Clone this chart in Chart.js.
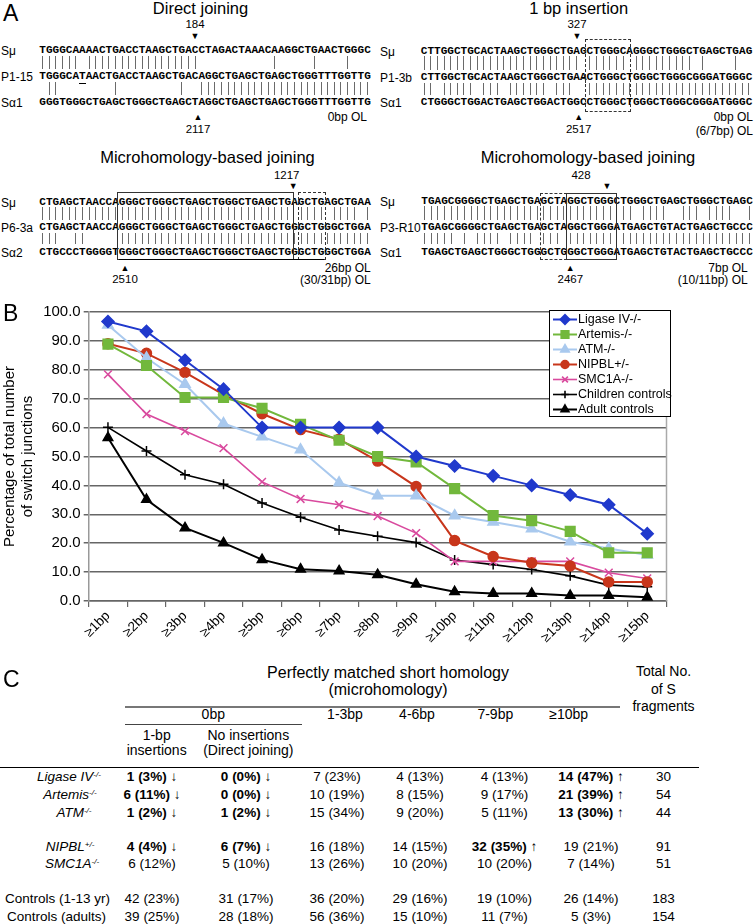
<!DOCTYPE html>
<html lang="en">
<head>
<meta charset="UTF-8">
<title>Switch junctions</title>
<script src="https://cdn.jsdelivr.net/npm/chart.js"></script>
<style>
  body { margin: 0; background: #fff; width: 754px; height: 924px; position: relative; overflow: hidden;
         font-family: 'Liberation Sans', Arial, sans-serif; color: #000; }
  .t { position: absolute; white-space: nowrap; line-height: 1; }
  .mono { font-family: 'Liberation Mono', 'Courier New', monospace; font-weight: bold; }
  .ln { position: absolute; }
  #chartWrap { position: absolute; left: 0; top: 300px; width: 754px; height: 360px; }
  sup { font-size: 0.6em; vertical-align: 0.55em; font-style: italic; }
</style>
</head>
<body>

<div id="chartWrap"><canvas id="grafico" width="754" height="360"></canvas></div>

<script>
    // ---- panel B data ----
    const categorias = ['≥1bp', '≥2bp', '≥3bp', '≥4bp', '≥5bp', '≥6bp', '≥7bp', '≥8bp',
        '≥9bp', '≥10bp', '≥11bp', '≥12bp', '≥13bp', '≥14bp', '≥15bp'];

    const ligaseIV = [96.7, 93.3, 83.3, 73.3, 60.0, 60.0, 60.0, 60.0, 50.0, 46.7, 43.3, 40.0, 36.7, 33.3, 23.3];
    const artemis = [88.9, 81.5, 70.4, 70.4, 66.7, 61.1, 55.6, 50.0, 48.1, 38.9, 29.6, 27.8, 24.1, 16.7, 16.7];
    const atm = [95.5, 84.1, 75.0, 61.4, 56.8, 52.3, 40.9, 36.4, 36.4, 29.5, 27.3, 25.0, 20.5, 18.2, 15.9];
    const nipbl = [89.0, 85.7, 79.1, 71.4, 64.8, 59.3, 56.0, 48.4, 39.6, 20.9, 15.4, 13.2, 12.1, 6.6, 6.6];
    const smc1a = [78.4, 64.7, 58.8, 52.9, 41.2, 35.3, 33.3, 29.4, 23.5, 13.7, 13.7, 13.7, 13.7, 9.8, 7.8];
    const criancas = [60.1, 51.9, 43.7, 40.4, 33.9, 29.0, 24.6, 22.4, 20.2, 14.2, 12.6, 10.9, 8.7, 5.5, 4.9];
    const adultos = [56.5, 35.1, 25.3, 20.1, 14.3, 11.0, 10.4, 9.1, 5.8, 3.2, 2.6, 2.6, 1.9, 1.9, 1.3];

    const fonte = "'Liberation Sans', Arial, sans-serif";

    // ---- helpers for the text panels ----
    function put(txt, x, y, o) {
        o = o || {};
        var d = document.createElement('div');
        d.className = 't' + (o.mono ? ' mono' : '');
        d.innerHTML = txt;
        d.style.left = x + 'px';
        d.style.top = y + 'px';
        d.style.fontSize = (o.size || 12) + 'px';
        if (o.bold) d.style.fontWeight = 'bold';
        if (o.italic) d.style.fontStyle = 'italic';
        if (o.color) d.style.color = o.color;
        var ax = o.align == 'left' ? '0' : (o.align == 'right' ? '-100%' : '-50%');
        d.style.transform = 'translate(' + ax + ', -50%)';
        document.body.appendChild(d);
    }

    function linha(x, y, w, h, cor) {
        var d = document.createElement('div');
        d.className = 'ln';
        d.style.left = x + 'px'; d.style.top = y + 'px';
        d.style.width = w + 'px'; d.style.height = h + 'px';
        d.style.background = cor || '#000';
        document.body.appendChild(d);
    }

    function caixa(x1, y1, x2, y2, estilo) {
        var d = document.createElement('div');
        d.className = 'ln';
        d.style.left = x1 + 'px'; d.style.top = y1 + 'px';
        d.style.width = (x2 - x1) + 'px'; d.style.height = (y2 - y1) + 'px';
        d.style.border = '1px ' + estilo + ' #333';
        document.body.appendChild(d);
    }

    // ---- panel A ----
    const cw = 6.63;
    const blocos = [
        {
            x0: 39.3, lx: 1, ys: [51, 77, 103],
            nomes: ['S&mu;', 'P1-15', 'S&alpha;1'],
            seqs: ['TGGGCAAAACTGACCTAAGCTGACCTAGACTAAACAAGGCTGAACTGGGC',
                'TGGGCATAACTGACCTAAGCTGACAGGCTGAGCTGAGCTGGGTTTGGTTG',
                'GGGTGGGCTGAGCTGGGCTGAGCTAGGCTGAGCTGAGCTGGGTTTGGTTG']
        },
        {
            x0: 420.8, lx: 380, ys: [51.5, 78, 103],
            nomes: ['S&mu;', 'P1-3b', 'S&alpha;1'],
            seqs: ['CTTGGCTGCACTAAGCTGGGCTGAGCTGGGCAGGGCTGGGCTGAGCTGAG',
                'CTTGGCTGCACTAAGCTGGGCTGAACTGGGCTGGGCTGGGCGGGATGGGC',
                'CTGGGCTGGACTGAGCTGGACTGGCCTGGGCTGGGCTGGGCGGGATGGGC']
        },
        {
            x0: 39.3, lx: 1, ys: [202.5, 228, 252.7],
            nomes: ['S&mu;', 'P6-3a', 'S&alpha;2'],
            seqs: ['CTGAGCTAACCAGGGCTGGGCTGAGCTGGGCTGAGCTGAGCTGAGCTGAA',
                'CTGAGCTAACCAGGGCTGGGCTGAGCTGGGCTGAGCTGGGCTGGGCTGGA',
                'CTGCCCTGGGGTGGGCTGGGCTGAGCTGGGCTGAGCTGGGCTGGGCTGGA']
        },
        {
            x0: 421.3, lx: 380, ys: [201.7, 228.3, 253],
            nomes: ['S&mu;', 'P3-R10', 'S&alpha;1'],
            seqs: ['TGAGCGGGGCTGAGCTGAGCTAGGCTGGGCTGGGCTGAGCTGGGCTGAGC',
                'TGAGCGGGGCTGAGCTGAGCTAGGCTGGGATGAGCTGTACTGAGCTGCCC',
                'TGAGCTGAGCTGGGCTGGGCTGGGCTGGGATGAGCTGTACTGAGCTGCCC']
        }
    ];

    blocos.forEach(function (b) {
        for (var r = 0; r < 3; r++) {
            put(b.nomes[r], b.lx, b.ys[r], { align: 'left', size: 12 });
            put(b.seqs[r], b.x0, b.ys[r], { align: 'left', mono: true, size: 11.05 });
        }
        // identity bars between neighbouring rows
        for (var r = 0; r < 2; r++) {
            var a = b.seqs[r], c = b.seqs[r + 1];
            var topo = b.ys[r] + 4.5, alt = b.ys[r + 1] - b.ys[r] - 13;
            for (var i = 0; i < a.length; i++) {
                if (a[i] == c[i]) linha(b.x0 + (i + 0.5) * cw - 0.5, topo, 1, alt, '#6a6a6a');
            }
        }
    });

    put('A', 3, 13, { align: 'left', size: 23 });
    put('Direct joining', 200.5, 8, { size: 16.5 });
    put('1 bp insertion', 578.7, 8, { size: 16.5 });
    put('Microhomology-based joining', 207.5, 157, { size: 16.5 });
    put('Microhomology-based joining', 588, 157, { size: 16.5 });

    // block 1 marks
    put('184', 195, 25, { size: 11.5 });
    put('&#9660;', 195, 36, { size: 9 });
    put('&#9650;', 198, 117, { size: 9 });
    put('2117', 198, 130, { size: 11.5 });
    put('0bp OL', 367, 117, { align: 'right', size: 12 });
    linha(39.3 + 6 * cw, 83, cw, 1.3, '#000');

    // block 2 marks
    put('327', 577, 25, { size: 11.5 });
    put('&#9660;', 577, 36, { size: 9 });
    put('&#9650;', 578.7, 117, { size: 9 });
    put('2517', 578.7, 130, { size: 11.5 });
    put('0bp OL', 753, 117, { align: 'right', size: 12 });
    put('(6/7bp) OL', 753, 131, { align: 'right', size: 12 });
    caixa(585.3, 39, 628.7, 110, 'dashed');
    linha(581, 78, 4, 1, '#333');
    linha(584.5, 78, 1, 5, '#333');

    // block 3 marks
    put('1217', 286.7, 175.7, { size: 11.5 });
    put('&#9660;', 293.3, 186, { size: 9 });
    caixa(117.3, 191.7, 292.3, 258.3, 'solid');
    caixa(298.3, 191.7, 324.3, 258.3, 'dashed');
    linha(39.3 + 12 * cw, 258.5, 31 * cw, 1.2, '#000');
    put('&#9650;', 125, 268, { size: 9 });
    put('2510', 125, 280, { size: 11.5 });
    put('26bp OL', 370.7, 268, { align: 'right', size: 12 });
    put('(30/31bp) OL', 370.7, 280, { align: 'right', size: 12 });

    // block 4 marks
    put('428', 581, 176, { size: 11.5 });
    put('&#9660;', 607, 186, { size: 9 });
    caixa(540.3, 192.7, 565.3, 258.3, 'dashed');
    caixa(566.3, 192.7, 615.3, 258.3, 'solid');
    put('&#9650;', 570.3, 268, { size: 9 });
    put('2467', 570.3, 280, { size: 11.5 });
    put('7bp OL', 747.7, 268, { align: 'right', size: 12 });
    put('(10/11bp) OL', 747.7, 280, { align: 'right', size: 12 });

    // ---- panel B ----
    put('B', 3, 313, { align: 'left', size: 23 });

    Chart.defaults.font.family = fonte;
    Chart.defaults.color = '#000';

    function serie(nome, dados, cor, estilo, raio, largura) {
        return {
            label: nome, data: dados,
            borderColor: cor, backgroundColor: cor,
            pointBackgroundColor: cor, pointBorderColor: cor,
            pointStyle: estilo, pointRadius: raio, pointBorderWidth: 1.5,
            borderWidth: largura, tension: 0, fill: false
        };
    }

    const conjuntos = [
        serie('Ligase IV-/-', ligaseIV, '#2039cc', 'rectRot', 6, 2),
        serie('Artemis-/-', artemis, '#72b83c', 'rect', 6.8, 2),
        serie('ATM-/-', atm, '#a9c9ee', 'triangle', 6, 2),
        serie('NIPBL+/-', nipbl, '#c8361b', 'circle', 5, 2),
        serie('SMC1A-/-', smc1a, '#d94a9e', 'crossRot', 5.5, 1.6),
        serie('Children controls', criancas, '#000000', 'cross', 5, 1.6),
        serie('Adult controls', adultos, '#000000', 'triangle', 5.5, 2)
    ];

    const legendaPlugin = {
        id: 'legendaCaixa',
        afterDraw(chart) {
            var ctx = chart.ctx;
            var area = chart.chartArea;
            ctx.save();
            // right border of plot
            ctx.strokeStyle = '#aaa';
            ctx.lineWidth = 1.5;
            ctx.beginPath();
            ctx.moveTo(area.right, area.top);
            ctx.lineTo(area.right, area.bottom);
            ctx.stroke();

            var bx = 549, by = 10, bw = 121, bh = 106;
            ctx.fillStyle = '#fff';
            ctx.fillRect(bx, by, bw, bh);
            ctx.strokeStyle = '#000';
            ctx.lineWidth = 1;
            ctx.strokeRect(bx + 0.5, by + 0.5, bw, bh);

            ctx.font = '12.5px ' + fonte;
            ctx.textBaseline = 'middle';
            ctx.textAlign = 'left';
            chart.data.datasets.forEach(function (ds, i) {
                var y = by + 9.5 + i * 15;
                ctx.strokeStyle = ds.borderColor;
                ctx.fillStyle = ds.borderColor;
                ctx.lineWidth = ds.borderWidth;
                ctx.beginPath();
                ctx.moveTo(bx + 4, y);
                ctx.lineTo(bx + 28, y);
                ctx.stroke();
                var opt = { pointStyle: ds.pointStyle, radius: ds.pointRadius * 0.75, rotation: 0, borderWidth: 1.5 };
                if (Chart.helpers && Chart.helpers.drawPoint) {
                    Chart.helpers.drawPoint(ctx, opt, bx + 16, y);
                } else {
                    ctx.beginPath();
                    ctx.arc(bx + 16, y, 3.5, 0, Math.PI * 2);
                    ctx.fill();
                }
                ctx.fillStyle = '#000';
                ctx.fillText(ds.label, bx + 29, y + 0.5);
            });
            ctx.restore();
        }
    };

    var grafico = new Chart(document.getElementById('grafico'), {
        type: 'line',
        data: { labels: categorias, datasets: conjuntos },
        options: {
            responsive: false,
            animation: false,
            layout: { padding: { top: 11, right: 87.5, left: 0, bottom: 0 } },
            plugins: { legend: { display: false }, tooltip: { enabled: false } },
            scales: {
                x: {
                    offset: true,
                    grid: { offset: true, drawOnChartArea: false, tickLength: 6, color: '#666', lineWidth: 1.2 },
                    border: { color: '#666', width: 1.5 },
                    ticks: { maxRotation: 45, minRotation: 45, autoSkip: false, font: { size: 13.5 }, color: '#000', padding: 1 },
                    afterFit: function (s) { s.height = 59; }
                },
                y: {
                    min: 0, max: 100,
                    ticks: { stepSize: 10, font: { size: 15 }, color: '#000', padding: 3,
                        callback: function (v) { return v.toFixed(1); } },
                    grid: { color: '#666', lineWidth: 1.5, tickLength: 5 },
                    border: { color: '#999', width: 1.5 },
                    title: {
                        display: true,
                        text: ['Percentage of total number', 'of switch junctions'],
                        font: { size: 15, lineHeight: 1.25 },
                        padding: { top: 0, bottom: 0 }
                    },
                    afterFit: function (s) { s.width = 88.7; }
                }
            }
        },
        plugins: [legendaPlugin]
    });

    // ---- panel C ----
    put('C', 3, 679, { align: 'left', size: 23 });
    put('Perfectly matched short homology', 388, 673, { size: 16 });
    put('(microhomology)', 388, 690, { size: 16 });
    linha(125, 706, 495, 1.5, '#777');
    put('Total No.', 663.5, 671, { size: 14 });
    put('of S', 663.5, 688.5, { size: 14 });
    put('fragments', 663.5, 706, { size: 14 });

    put('0bp', 213.3, 714, { size: 14 });
    linha(125, 723.5, 176.7, 1.2, '#444');
    put('1-3bp', 345, 714, { size: 14 });
    put('4-6bp', 417, 714, { size: 14 });
    put('7-9bp', 495.3, 714, { size: 14 });
    put('&ge;10bp', 568.7, 714, { size: 14 });
    put('1-bp', 156.7, 735, { size: 14 });
    put('insertions', 156.7, 750, { size: 14 });
    put('No insertions', 248.3, 735, { size: 14 });
    put('(Direct joining)', 248.3, 750, { size: 14 });
    linha(0, 767, 698.7, 1.3, '#000');

    const colunasX = [152, 246, 337, 420, 504.5, 591, 663.5];
    const linhasC = [
        { nome: 'Ligase IV<sup>-/-</sup>', it: true, x: 69, y: 777,
          cel: [['1 (3%) &darr;', 1], ['0 (0%) &darr;', 1], ['7 (23%)'], ['4 (13%)'], ['4 (13%)'], ['14 (47%) &uarr;', 1], ['30']] },
        { nome: 'Artemis<sup>-/-</sup>', it: true, x: 70, y: 795,
          cel: [['6 (11%) &darr;', 1], ['0 (0%) &darr;', 1], ['10 (19%)'], ['8 (15%)'], ['9 (17%)'], ['21 (39%) &uarr;', 1], ['54']] },
        { nome: 'ATM<sup>-/-</sup>', it: true, x: 74, y: 812.5,
          cel: [['1 (2%) &darr;', 1], ['1 (2%) &darr;', 1], ['15 (34%)'], ['9 (20%)'], ['5 (11%)'], ['13 (30%) &uarr;', 1], ['44']] },
        { nome: 'NIPBL<sup>+/-</sup>', it: true, x: 70, y: 846.5,
          cel: [['4 (4%) &darr;', 1], ['6 (7%) &darr;', 1], ['16 (18%)'], ['14 (15%)'], ['32 (35%) &uarr;', 1], ['19 (21%)'], ['91']] },
        { nome: 'SMC1A<sup>-/-</sup>', it: true, x: 72, y: 864,
          cel: [['6 (12%)'], ['5 (10%)'], ['13 (26%)'], ['10 (20%)'], ['10 (20%)'], ['7 (14%)'], ['51']] },
        { nome: 'Controls (1-13 yr)', it: false, x: 57.5, y: 899,
          cel: [['42 (23%)'], ['31 (17%)'], ['36 (20%)'], ['29 (16%)'], ['19 (10%)'], ['26 (14%)'], ['183']] },
        { nome: 'Controls (adults)', it: false, x: 56.5, y: 916.5,
          cel: [['39 (25%)'], ['28 (18%)'], ['56 (36%)'], ['15 (10%)'], ['11 (7%)'], ['5 (3%)'], ['154']] }
    ];

    linhasC.forEach(function (l) {
        put(l.nome, l.x, l.y, { size: 13.5, italic: l.it });
        l.cel.forEach(function (c, j) {
            put(c[0], colunasX[j], l.y, { size: 13.5, bold: !!c[1] });
        });
    });
</script>
</body>
</html>
